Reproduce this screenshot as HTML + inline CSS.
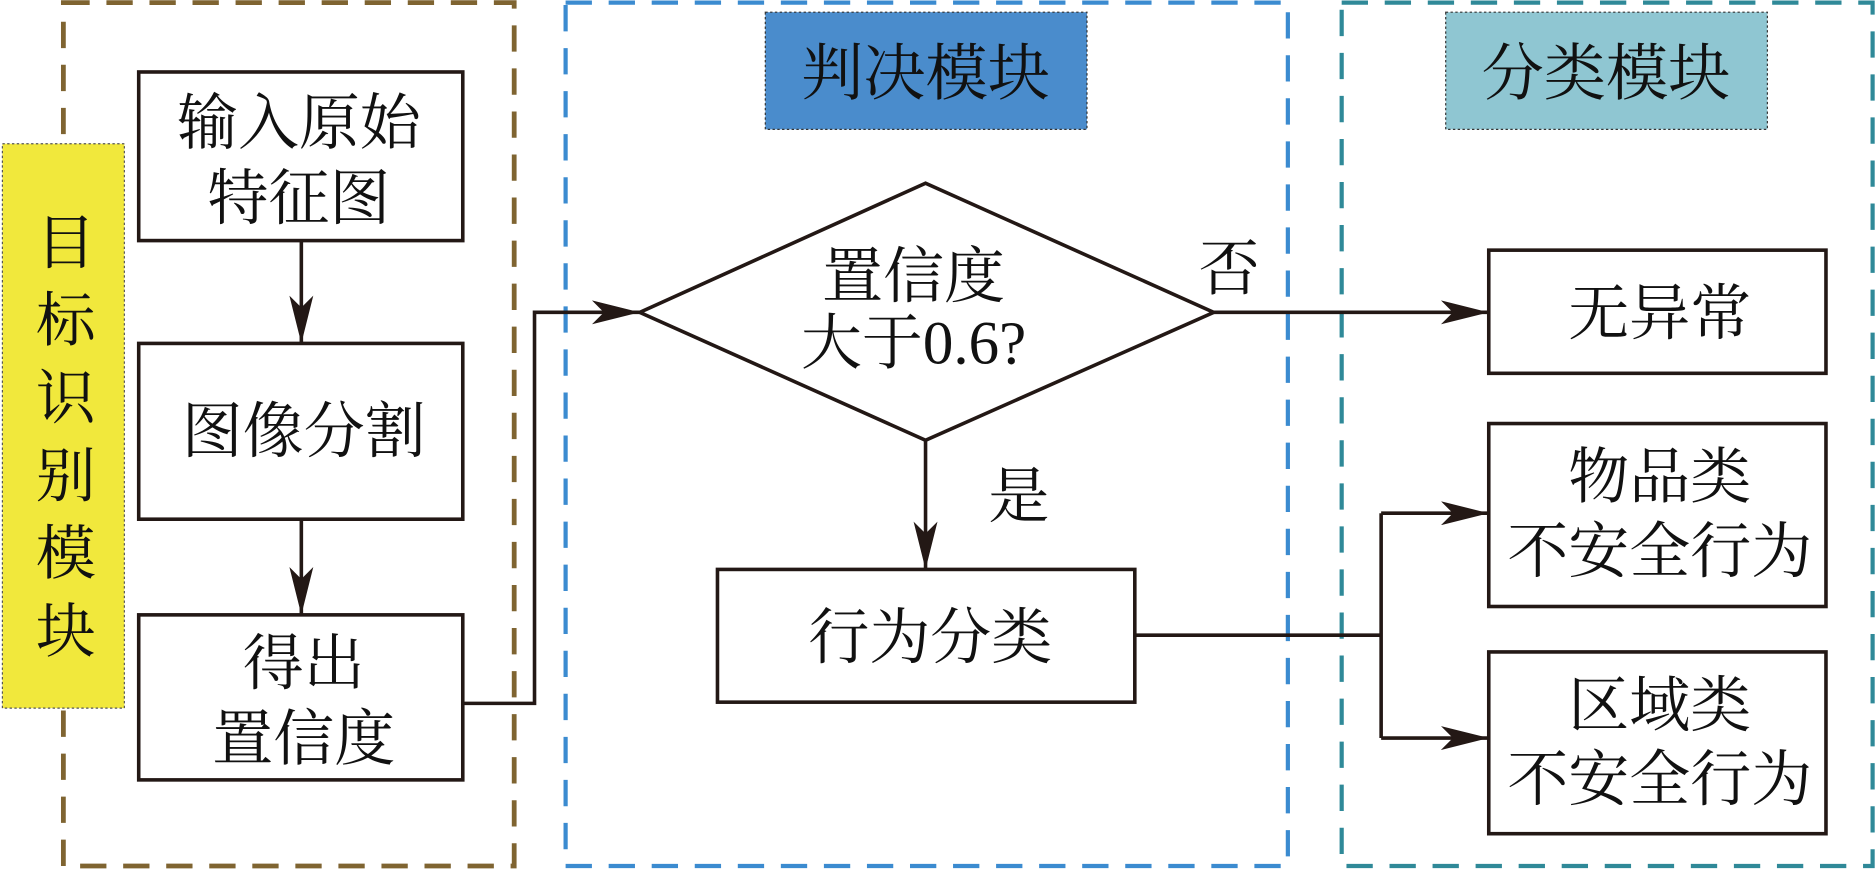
<!DOCTYPE html>
<html><head><meta charset="utf-8"><style>
html,body{margin:0;padding:0;background:#fff;}
svg{display:block;}
text{font-family:"Liberation Serif","Noto Serif CJK SC",serif;fill:#111;}
</style></head><body>
<svg width="1875" height="871" viewBox="0 0 1568 728" xmlns="http://www.w3.org/2000/svg">
<defs>
<marker id="a" markerWidth="44" markerHeight="20" refX="40" refY="10" orient="auto" markerUnits="userSpaceOnUse">
<path d="M0,0 L40,10 L0,20 L10,10 Z" fill="#231815"/>
</marker>
</defs>
<rect x="53" y="2" width="377" height="722" fill="none" stroke="#7f6431" stroke-width="4" stroke-dasharray="22,14"/>
<rect x="473" y="2" width="604" height="722" fill="none" stroke="#3b8bd0" stroke-width="3.5" stroke-dasharray="22,14"/>
<rect x="1122" y="2" width="444" height="722" fill="none" stroke="#2f8998" stroke-width="3.5" stroke-dasharray="22,14"/>
<rect x="2" y="120" width="102" height="472" fill="#f1e83c" stroke="#555" stroke-width="1" stroke-dasharray="2,2"/>
<g font-size="50" text-anchor="middle">
<text x="55" y="220">目</text><text x="55" y="285">标</text><text x="55" y="350">识</text>
<text x="55" y="415">别</text><text x="55" y="480">模</text><text x="55" y="545">块</text>
</g>
<rect x="640" y="10" width="269" height="98" fill="#4a8ccc" stroke="#333" stroke-width="1" stroke-dasharray="2,2"/>
<text x="774" y="79" font-size="52" text-anchor="middle">判决模块</text>
<rect x="1209" y="10" width="269" height="98" fill="#8fc6d2" stroke="#333" stroke-width="1" stroke-dasharray="2,2"/>
<text x="1343" y="79" font-size="52" text-anchor="middle">分类模块</text>
<g fill="#fff" stroke="#231815" stroke-width="3">
<rect x="116" y="60" width="271" height="141"/>
<rect x="116" y="287" width="271" height="147"/>
<rect x="116" y="514" width="271" height="138"/>
<rect x="600" y="476" width="349" height="111"/>
<rect x="1245" y="209" width="282" height="103"/>
<rect x="1245" y="354" width="282" height="153"/>
<rect x="1245" y="545" width="282" height="152"/>
<polygon points="535,261 774,153 1015,261 774,368"/>
</g>
<g font-size="51" text-anchor="middle">
<text x="250" y="120">输入原始</text><text x="250" y="183">特征图</text>
<text x="254" y="378">图像分割</text>
<text x="254" y="572">得出</text><text x="254" y="635">置信度</text>
<text x="764" y="248">置信度</text><text x="764" y="304">大于0.6?</text>
<text x="1028" y="242">否</text>
<text x="852" y="432">是</text>
<text x="778" y="550">行为分类</text>
<text x="1388" y="279">无异常</text>
<text x="1388" y="416">物品类</text><text x="1388" y="478">不安全行为</text>
<text x="1388" y="607">区域类</text><text x="1388" y="669">不安全行为</text>
</g>
<g fill="none" stroke="#231815" stroke-width="3">
<line x1="252" y1="201" x2="252" y2="287" marker-end="url(#a)"/>
<line x1="252" y1="434" x2="252" y2="514" marker-end="url(#a)"/>
<polyline points="387,588 447,588 447,261 535,261" marker-end="url(#a)"/>
<line x1="1015" y1="261" x2="1245" y2="261" marker-end="url(#a)"/>
<line x1="774" y1="368" x2="774" y2="476" marker-end="url(#a)"/>
<line x1="949" y1="531" x2="1155" y2="531"/>
<line x1="1155" y1="429" x2="1155" y2="617"/>
<line x1="1155" y1="429" x2="1245" y2="429" marker-end="url(#a)"/>
<line x1="1155" y1="617" x2="1245" y2="617" marker-end="url(#a)"/>
</g>
</svg>
</body></html>
